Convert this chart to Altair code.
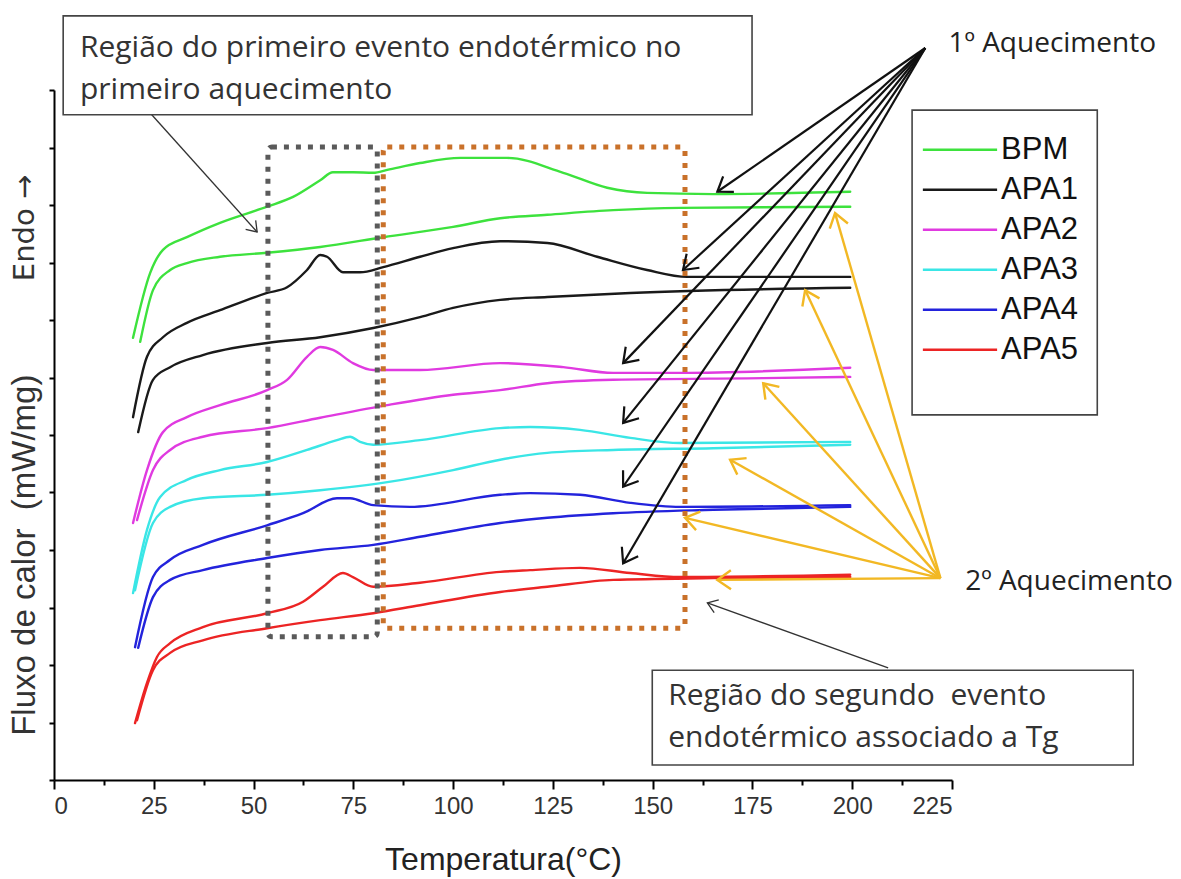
import math
import numpy as np
import pandas as pd
import altair as alt

# ---- DSC curves: temperature (°C) and heat flow (offset, arbitrary units) ----
samples = ["BPM", "APA1", "APA2", "APA3", "APA4", "APA5"]
colors = ["#3de23d", "#1a1a1a", "#e03ae0", "#3ae6e6", "#2323dc", "#ec2424"]

bpm_h1_t = [19.8, 24.1, 27.3, 33.3, 41.6, 53.4, 59.9, 66.7, 69.9, 74.9, 80.0, 83.5, 91.7, 101.8, 113.5, 127.6, 138.6, 148.6, 165.2, 199.5]
bpm_h1_v = [7.69, 8.82, 9.22, 9.44, 9.69, 9.97, 10.14, 10.43, 10.57, 10.57, 10.56, 10.61, 10.73, 10.82, 10.82, 10.56, 10.30, 10.21, 10.19, 10.23]
bpm_h2_t = [21.6, 24.8, 29.1, 33.3, 41.6, 53.4, 66.7, 82.5, 100.0, 111.8, 123.6, 140.1, 156.9, 199.5]
bpm_h2_v = [7.62, 8.52, 8.87, 8.99, 9.10, 9.17, 9.27, 9.44, 9.62, 9.77, 9.83, 9.91, 9.95, 9.97]

apa1_h1_t = [19.8, 23.3, 27.3, 33.3, 41.6, 53.4, 58.4, 63.4, 66.7, 68.4, 72.4, 76.7, 82.5, 91.7, 100.0, 111.8, 123.6, 136.1, 148.6, 158.6, 199.5]
apa1_h1_v = [6.31, 7.36, 7.70, 7.95, 8.17, 8.47, 8.57, 8.87, 9.13, 9.10, 8.83, 8.83, 8.92, 9.10, 9.25, 9.37, 9.34, 9.10, 8.87, 8.75, 8.75]
apa1_h2_t = [21.1, 24.8, 29.1, 37.3, 53.4, 66.7, 80.0, 91.7, 100.0, 111.8, 123.6, 144.4, 199.5]
apa1_h2_v = [6.05, 6.96, 7.18, 7.39, 7.60, 7.70, 7.86, 8.05, 8.21, 8.35, 8.40, 8.47, 8.56]

apa2_h1_t = [19.8, 23.3, 27.3, 33.3, 41.6, 53.4, 58.4, 63.4, 66.7, 69.9, 74.9, 80.0, 91.7, 111.8, 127.6, 140.1, 156.9, 199.5]
apa2_h1_v = [4.47, 5.39, 6.05, 6.31, 6.52, 6.78, 6.96, 7.36, 7.53, 7.48, 7.25, 7.13, 7.13, 7.25, 7.18, 7.08, 7.08, 7.17]
apa2_h2_t = [20.8, 24.8, 29.1, 37.3, 53.4, 66.7, 83.5, 100.0, 111.8, 123.6, 140.1, 177.7, 199.5]
apa2_h2_v = [4.52, 5.39, 5.74, 5.97, 6.12, 6.30, 6.52, 6.70, 6.78, 6.90, 6.96, 6.99, 7.01]

apa3_h1_t = [19.8, 23.3, 26.6, 33.3, 41.6, 53.4, 63.4, 70.9, 74.2, 76.7, 80.0, 91.7, 111.8, 119.3, 131.8, 144.4, 156.9, 199.5]
apa3_h1_v = [3.25, 4.35, 4.92, 5.22, 5.39, 5.53, 5.74, 5.91, 5.97, 5.88, 5.83, 5.91, 6.12, 6.14, 6.09, 5.95, 5.86, 5.88]
apa3_h2_t = [20.3, 24.8, 29.1, 37.3, 53.4, 66.7, 83.5, 100.0, 111.8, 123.6, 140.1, 165.2, 199.5]
apa3_h2_v = [3.30, 4.47, 4.75, 4.90, 4.96, 5.04, 5.18, 5.39, 5.57, 5.69, 5.74, 5.77, 5.83]

apa4_h1_t = [20.3, 24.8, 29.1, 37.3, 53.4, 62.4, 70.9, 74.2, 80.0, 89.2, 111.8, 119.3, 131.8, 144.4, 156.9, 199.5]
apa4_h1_v = [2.31, 3.53, 3.83, 4.09, 4.43, 4.64, 4.90, 4.90, 4.78, 4.75, 4.96, 4.99, 4.96, 4.82, 4.75, 4.78]
apa4_h2_t = [21.1, 24.8, 29.1, 37.3, 53.4, 66.7, 80.0, 91.7, 111.8, 123.6, 140.1, 165.2, 199.5]
apa4_h2_v = [2.30, 3.18, 3.48, 3.65, 3.86, 4.00, 4.09, 4.23, 4.47, 4.56, 4.64, 4.70, 4.75]

apa5_h1_t = [20.3, 23.3, 25.8, 29.1, 37.3, 53.4, 62.4, 67.4, 72.4, 74.9, 80.0, 91.7, 111.8, 119.3, 131.8, 144.4, 156.9, 199.5]
apa5_h1_v = [0.99, 1.69, 2.14, 2.38, 2.66, 2.90, 3.10, 3.36, 3.60, 3.53, 3.36, 3.43, 3.62, 3.65, 3.69, 3.60, 3.53, 3.57]
apa5_h2_t = [20.8, 24.8, 29.1, 37.3, 53.4, 66.7, 80.0, 91.7, 111.8, 123.6, 140.1, 165.2, 199.5]
apa5_h2_v = [1.04, 1.91, 2.21, 2.43, 2.64, 2.78, 2.90, 3.04, 3.27, 3.36, 3.48, 3.51, 3.53]

runs = [
    ("BPM", "1", bpm_h1_t, bpm_h1_v), ("BPM", "2", bpm_h2_t, bpm_h2_v),
    ("APA1", "1", apa1_h1_t, apa1_h1_v), ("APA1", "2", apa1_h2_t, apa1_h2_v),
    ("APA2", "1", apa2_h1_t, apa2_h1_v), ("APA2", "2", apa2_h2_t, apa2_h2_v),
    ("APA3", "1", apa3_h1_t, apa3_h1_v), ("APA3", "2", apa3_h2_t, apa3_h2_v),
    ("APA4", "1", apa4_h1_t, apa4_h1_v), ("APA4", "2", apa4_h2_t, apa4_h2_v),
    ("APA5", "1", apa5_h1_t, apa5_h1_v), ("APA5", "2", apa5_h2_t, apa5_h2_v),
]

# ---- annotation anchors (data units) ----
# dotted regions: [T_left, T_right, v_bottom, v_top]
region_first = [53.6, 81.0, 2.49, 11.01]
region_second = [82.5, 158.1, 2.64, 11.01]

first_heat_from = (218.3, 12.73)
first_heat_to_t = [166.2, 157.6, 142.6, 142.6, 142.6, 142.6]
first_heat_to_v = [10.23, 8.87, 7.25, 6.21, 5.10, 3.77]
second_heat_from = (222.1, 3.51)
second_heat_to_t = [195.7, 188.2, 177.7, 169.4, 158.1, 166.2]
second_heat_to_v = [9.86, 8.52, 6.90, 5.57, 4.56, 3.48]

# note boxes: [T_left, T_right, v_bottom, v_top]
note_box_1 = [2.3, 174.9, 11.57, 13.29]
note_box_1_lines = ["Região do primeiro evento endotérmico no", "primeiro aquecimento"]
note_box_1_arrow = [(24.1, 11.60), (50.9, 9.53)]
note_box_2 = [149.9, 270.4, 0.26, 1.91]
note_box_2_lines = ["Região do segundo\u00a0 evento", "endotérmico associado a Tg"]
note_box_2_arrow = [(209.0, 1.95), (163.7, 3.08)]

legend_box = [215.0, 261.4, 6.35, 11.65]

X_MAX, Y_MAX = 225, 12
W, H = 898, 690
PX_X, PX_Y = W / X_MAX, H / Y_MAX

xs = alt.Scale(domain=[0, X_MAX], nice=False, zero=False)
ys = alt.Scale(domain=[0, Y_MAX], nice=False, zero=False)

x_axis = alt.Axis(
    values=list(np.arange(0, 225.1, 12.5)),
    labelExpr="datum.value % 25 === 0 ? '' + datum.value : ''",
    tickSize={"condition": {"test": "datum.value % 25 === 0", "value": 9}, "value": 5},
    tickWidth=2, tickColor="black", domainColor="black", domainWidth=2,
    labelFont="Liberation Sans", labelFontSize=24, labelColor="#333333", labelPadding=5,
    titleFont="Liberation Sans", titleFontSize=32, titleFontWeight="normal",
    titleColor="#222222", titlePadding=26, grid=False,
)
y_axis = alt.Axis(
    values=list(range(0, 13)), labels=False, tickSize=5, tickWidth=2,
    tickColor="black", domainColor="black", domainWidth=2, grid=False,
)


def X(field, **kw):
    return alt.X(field, type="quantitative", scale=xs, axis=x_axis, title="Temperatura(°C)", **kw)


def Y(field, **kw):
    return alt.Y(field, type="quantitative", scale=ys, axis=y_axis, title=None, **kw)


curve_df = pd.concat(
    [pd.DataFrame({"T": t, "v": v, "sample": s, "run": s + "-" + r}) for s, r, t, v in runs],
    ignore_index=True,
)

curves = alt.Chart(curve_df).mark_line(strokeWidth=2.4, interpolate="monotone", strokeCap="round").encode(
    x=X("T"), y=Y("v"),
    color=alt.Color("sample:N", scale=alt.Scale(domain=samples, range=colors), legend=None),
    detail="run:N",
)

regions_df = pd.DataFrame({
    "T": [region_first[0], region_second[0]], "T2": [region_first[1], region_second[1]],
    "v": [region_first[2], region_second[2]], "v2": [region_first[3], region_second[3]],
    "c": ["#5a5a5a", "#c9712a"],
})
regions = alt.Chart(regions_df).mark_rect(fillOpacity=0, strokeWidth=5, strokeDash=[5, 7], cornerRadius=4).encode(
    x=X("T"), x2="T2", y=Y("v"), y2="v2", stroke=alt.Stroke("c:N", scale=None),
)

# arrows: shafts + open V heads oriented in screen space
arrow_rows = []
for t, v in zip(first_heat_to_t, first_heat_to_v):
    arrow_rows.append((first_heat_from[0], first_heat_from[1], t, v, "black"))
for t, v in zip(second_heat_to_t, second_heat_to_v):
    arrow_rows.append((second_heat_from[0], second_heat_from[1], t, v, "gold"))
for a in (note_box_1_arrow, note_box_2_arrow):
    arrow_rows.append((a[0][0], a[0][1], a[1][0], a[1][1], "thin"))

arrows_df = pd.DataFrame(arrow_rows, columns=["T0", "v0", "T", "v", "kind"])
arrows_df["ang"] = [
    math.degrees(math.atan2((r.T - r.T0) * PX_X, (r.v - r.v0) * PX_Y)) % 360
    for r in arrows_df.itertuples()
]
arrow_style = {"black": ("#111111", 2.2, 1100), "gold": ("#f2b824", 2.4, 1100), "thin": ("#333333", 1.3, 560)}
head_path = "M -0.57 0.82 L 0 0 L 0.57 0.82"

arrow_layers = []
for kind, (col, sw, sz) in arrow_style.items():
    d = arrows_df[arrows_df.kind == kind]
    arrow_layers.append(
        alt.Chart(d).mark_rule(color=col, strokeWidth=sw).encode(x=X("T0"), y=Y("v0"), x2="T", y2="v")
    )
    arrow_layers.append(
        alt.Chart(d).mark_point(shape=head_path, filled=False, color=col, strokeWidth=sw, size=sz, opacity=1).encode(
            x=X("T"), y=Y("v"), angle=alt.Angle("ang:Q", scale=None)
        )
    )

# framed boxes (two notes and the legend)
boxes_df = pd.DataFrame({
    "T": [note_box_1[0], note_box_2[0], legend_box[0]], "T2": [note_box_1[1], note_box_2[1], legend_box[1]],
    "v": [note_box_1[2], note_box_2[2], legend_box[2]], "v2": [note_box_1[3], note_box_2[3], legend_box[3]],
})
boxes = alt.Chart(boxes_df).mark_rect(fill="white", stroke="#444444", strokeWidth=1.6).encode(
    x=X("T"), x2="T2", y=Y("v"), y2="v2"
)

LINE_STEP = 42 / PX_Y
notes_df = pd.DataFrame({
    "T": [note_box_1[0] + 4.2] * 2 + [note_box_2[0] + 4.0] * 2,
    "v": [note_box_1[3] - 0.56, note_box_1[3] - 0.56 - LINE_STEP,
          note_box_2[3] - 0.45, note_box_2[3] - 0.45 - LINE_STEP],
    "label": note_box_1_lines + note_box_2_lines,
})
notes = alt.Chart(notes_df).mark_text(align="left", baseline="middle", font="Open Sans", fontSize=30, color="#333333").encode(
    x=X("T"), y=Y("v"), text="label:N"
)

heat_labels_df = pd.DataFrame({
    "T": [first_heat_from[0] + 5.8, second_heat_from[0] + 6.2],
    "v": [first_heat_from[1] + 0.07, second_heat_from[1] - 0.07],
    "label": ["1º Aquecimento", "2º Aquecimento"],
})
heat_labels = alt.Chart(heat_labels_df).mark_text(align="left", baseline="middle", font="Open Sans", fontSize=28, color="#222222").encode(
    x=X("T"), y=Y("v"), text="label:N"
)

# legend drawn inside its framed box
leg_top = legend_box[3] - 0.69
leg_df = pd.DataFrame({
    "sample": samples,
    "v": [leg_top - i * 40 / PX_Y for i in range(len(samples))],
})
leg_df["T"] = legend_box[0] + 2.7
leg_df["T2"] = legend_box[0] + 21.3
leg_df["Tl"] = legend_box[0] + 22.3
legend_lines = alt.Chart(leg_df).mark_rule(strokeWidth=2.6).encode(
    x=X("T"), x2="T2", y=Y("v"),
    color=alt.Color("sample:N", scale=alt.Scale(domain=samples, range=colors), legend=None),
)
legend_text = alt.Chart(leg_df).mark_text(align="left", baseline="middle", font="Liberation Sans", fontSize=31, color="#111111").encode(
    x=X("Tl"), y=Y("v"), text="sample:N"
)

# y-axis titles
flux_title = alt.Chart(pd.DataFrame({"T": [-7.3], "v": [3.91], "label": ["Fluxo de calor\u00a0 (mW/mg)"]})).mark_text(
    angle=270, align="center", baseline="middle", font="Liberation Sans", fontSize=33, color="#333333"
).encode(x=X("T"), y=Y("v"), text="label:N")
endo_title = alt.Chart(pd.DataFrame({"T": [-7.3], "v": [9.6], "label": ["Endo →"]})).mark_text(
    angle=270, align="center", baseline="middle", font="DejaVu Sans", fontSize=29, color="#333333"
).encode(x=X("T"), y=Y("v"), text="label:N")

chart = alt.layer(
    curves, regions, *arrow_layers, boxes, notes, heat_labels, legend_lines, legend_text, flux_title, endo_title
).properties(
    width=W, height=H,
    padding={"left": 54, "top": 90, "right": 229, "bottom": 99},
    autosize=alt.AutoSizeParams(type="none"),
).configure_view(stroke=None)

chart.save("out.html", embed_options={"renderer": "svg", "actions": False})
